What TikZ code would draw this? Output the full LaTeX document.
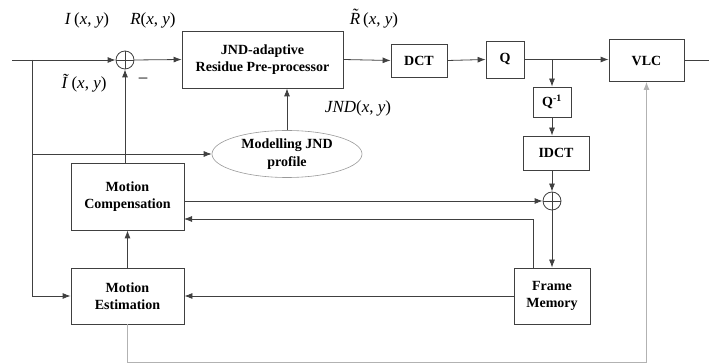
\documentclass[tikz,border=0pt]{standalone}
\usepackage{fontspec}
\setmainfont{Liberation Serif}
\usetikzlibrary{arrows.meta,shapes.geometric}
\newcommand{\tldR}{\ooalign{\textit{R}\cr\hidewidth\raisebox{0.2em}{\textit{\char"02DC}}\hidewidth\cr}}
\begin{document}
\begin{tikzpicture}[x=1pt,y=-1pt,
  box/.style={rectangle, draw=black!75, line width=0.8pt, font=\fontsize{14}{17.5}\selectfont\bfseries, align=center, inner sep=0pt},
  ln/.style={draw=black!75, line width=0.8pt},
  arr/.style={ln, -{Latex[length=8pt,width=6pt]}},
  fb/.style={draw=black!30, line width=0.8pt, -{Latex[length=8pt,width=6pt]}},
  sumc/.style={circle, draw=black!75, line width=0.8pt, minimum size=18pt, inner sep=0pt},
  lbl/.style={font=\fontsize{17}{20}\selectfont, inner sep=0pt}]
\useasboundingbox (0,0) rectangle (709,363);

% boxes
\node[box, minimum width=161pt, minimum height=57pt] (jnd) at (262.5,59.5) {JND-adaptive\\Residue Pre-processor};
\node[box, minimum width=56pt, minimum height=33pt] (dct) at (419,60.5) {DCT};
\node[box, minimum width=38pt, minimum height=37pt] (q) at (505,59.5) {Q};
\node[box, minimum width=75pt, minimum height=42pt] (vlc) at (646.5,60.5) {VLC};
\node[box, minimum width=38pt, minimum height=30pt] (q1) at (552,102) {Q\textsuperscript{-1}};
\node[box, minimum width=66pt, minimum height=34pt] (idct) at (556,153) {IDCT};
\node[box, minimum width=76pt, minimum height=56pt] (fm) at (552,296) {Frame\\Memory};
\node[box, minimum width=113pt, minimum height=67pt] (mc) at (127.5,196.5) {Motion\\Compensation};
\node[box, minimum width=113pt, minimum height=56pt] (me) at (127.5,296) {Motion\\Estimation};
\node[ellipse, draw=black!40, line width=0.6pt, minimum width=150pt, minimum height=47pt, inner sep=0pt,
      font=\fontsize{14}{17.5}\selectfont\bfseries, align=center] (el) at (287,154) {Modelling JND\\profile};

% summing junctions
\node[sumc] (s1) at (125,60) {};
\draw[ln] (s1.north) -- (s1.south) (s1.west) -- (s1.east);
\node[sumc] (s2) at (552,201) {};
\draw[ln] (s2.north) -- (s2.south) (s2.west) -- (s2.east);

% coordinates
\coordinate (in) at (12,60);
\coordinate (b1) at (32,60);
\coordinate (b2) at (32,154);
\coordinate (out) at (709,60.5);
\coordinate (br) at (552,59.5);
\coordinate (f1) at (533,268);
\coordinate (mcin) at (184,219);

% connectors
\draw[arr] (in) -- (s1.west);
\draw[arr] (b1) |- (me.west);
\draw[arr] (b2) -- (el.west);
\draw[arr] (s1.east) -- (jnd.west);
\draw[arr] (s1.south |- mc.north) -- (s1.south);
\draw[arr] (el.north) -- (el.north |- jnd.south);
\draw[arr] (jnd.east) -- (dct.west);
\draw[arr] (dct.east) -- (q.west);
\draw[arr] (q.east) -- (q.east -| vlc.west);
\draw[ln] (vlc.east) -- (out);
\draw[arr] (br) -- (q1.north);
\draw[arr] (q1.south) -- (q1.south |- idct.north);
\draw[arr] (q1.south |- idct.south) -- (s2.north);
\draw[arr] (mc.east |- s2.west) -- (s2.west);
\draw[arr] (s2.south) -- (fm.north);
\draw[arr] (f1) |- (mcin);
\draw[arr] (fm.west) -- (me.east);
\draw[arr] (me.north) -- (mc.south);
\draw[fb] (me.south) -- ++(0,38) -| (vlc.south);

% labels
\node[lbl] (lI) at (87,20) {\textit{I}\,(\textit{x}, \textit{y})};
\node[lbl] (lR) at (153,20) {\textit{R}(\textit{x}, \textit{y})};
\node[lbl] (lIt) at (84,83) {\textit{\~{I}}\,(\textit{x}, \textit{y})};
\node[lbl] (lm) at (143,80) {\textendash};
\node[lbl] (lRt) at (374,20) {\tldR\,(\textit{x}, \textit{y})};
\node[lbl] (lJ) at (358,108) {\textit{JND}(\textit{x}, \textit{y})};
\end{tikzpicture}
\end{document}
